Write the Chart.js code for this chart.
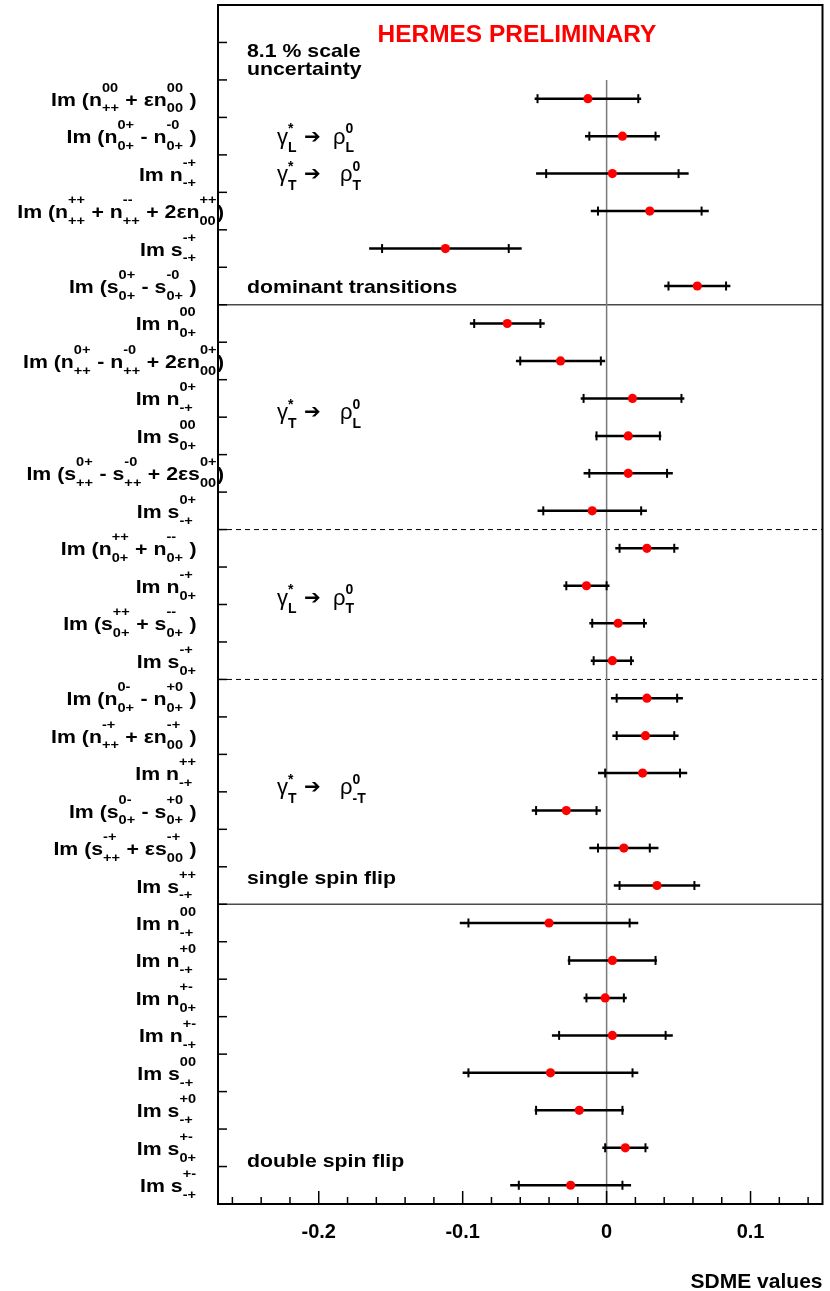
<!DOCTYPE html>
<html>
<head>
<meta charset="utf-8">
<script src="https://cdn.jsdelivr.net/npm/chart.js@4.4.1/dist/chart.umd.min.js"></script>
<style>
  body { margin: 0; background: #fff; }
  canvas { display: block; }
</style>
</head>
<body>
<canvas id="myChart" width="830" height="1291"></canvas>
<script>
// row labels, top to bottom (_{} subscript, ^{} superscript)
const labels = [
    'Im (n_{++}^{00} + εn_{00}^{00} )',
    'Im (n_{0+}^{0+} - n_{0+}^{-0} )',
    'Im n_{-+}^{-+}',
    'Im (n_{++}^{++} + n_{++}^{--} + 2εn_{00}^{++})',
    'Im s_{-+}^{-+}',
    'Im (s_{0+}^{0+} - s_{0+}^{-0} )',
    'Im n_{0+}^{00}',
    'Im (n_{++}^{0+} - n_{++}^{-0} + 2εn_{00}^{0+})',
    'Im n_{-+}^{0+}',
    'Im s_{0+}^{00}',
    'Im (s_{++}^{0+} - s_{++}^{-0} + 2εs_{00}^{0+})',
    'Im s_{-+}^{0+}',
    'Im (n_{0+}^{++} + n_{0+}^{--} )',
    'Im n_{0+}^{-+}',
    'Im (s_{0+}^{++} + s_{0+}^{--} )',
    'Im s_{0+}^{-+}',
    'Im (n_{0+}^{0-} - n_{0+}^{+0} )',
    'Im (n_{++}^{-+} + εn_{00}^{-+} )',
    'Im n_{-+}^{++}',
    'Im (s_{0+}^{0-} - s_{0+}^{+0} )',
    'Im (s_{++}^{-+} + εs_{00}^{-+} )',
    'Im s_{-+}^{++}',
    'Im n_{-+}^{00}',
    'Im n_{-+}^{+0}',
    'Im n_{0+}^{+-}',
    'Im n_{-+}^{+-}',
    'Im s_{-+}^{00}',
    'Im s_{-+}^{+0}',
    'Im s_{0+}^{+-}',
    'Im s_{-+}^{+-}'
];
const values = [-0.013, 0.011, 0.004, 0.030, -0.112, 0.063,
    -0.069, -0.032, 0.018, 0.015, 0.015, -0.010,
    0.028, -0.014, 0.008, 0.004,
    0.028, 0.027, 0.025, -0.028, 0.012, 0.035,
    -0.040, 0.004, -0.001, 0.004, -0.039, -0.019, 0.013, -0.025];
const statErr = [0.035, 0.023, 0.046, 0.036, 0.044, 0.020,
    0.023, 0.028, 0.034, 0.022, 0.027, 0.034,
    0.019, 0.014, 0.018, 0.013,
    0.021, 0.020, 0.026, 0.021, 0.018, 0.026,
    0.056, 0.030, 0.013, 0.037, 0.057, 0.030, 0.014, 0.036];
const totalErr = [0.037, 0.026, 0.053, 0.041, 0.053, 0.023,
    0.026, 0.031, 0.036, 0.023, 0.031, 0.038,
    0.022, 0.016, 0.020, 0.015,
    0.025, 0.023, 0.031, 0.024, 0.024, 0.030,
    0.062, 0.031, 0.015, 0.042, 0.061, 0.031, 0.016, 0.042];
const xTicks = [-0.2, -0.1, 0, 0.1];
const solidAfterRows = [5, 21];
const dashedAfterRows = [11, 15];
const groupTitles = ['dominant transitions', 'single spin flip', 'double spin flip'];
// [photon helicity, rho helicity]
const reactions = [['L', 'L'], ['T', 'T'], ['T', 'L'], ['L', 'T'], ['T', '-T']];

const FONT = '"Liberation Sans", Arial, Helvetica, sans-serif';

function drawText(ctx, s, x, y, font, sx) {
    ctx.save();
    ctx.font = font;
    ctx.translate(x, y);
    ctx.scale(sx, 1);
    ctx.fillText(s, 0, 0);
    ctx.restore();
}

function textW(ctx, s, font, sx) {
    ctx.font = font;
    return ctx.measureText(s).width * sx;
}

// split "Im n_{-+}^{0+}" into text pieces and sub/sup pairs
function parseRich(str) {
    const items = [];
    const re = /_\{([^}]*)\}|\^\{([^}]*)\}|([^_^]+)/g;
    let m;
    while ((m = re.exec(str))) {
        if (m[3] !== undefined) {
            items.push({ text: m[3] });
        } else {
            let last = items[items.length - 1];
            if (!last || last.text !== undefined) {
                last = { sub: '', sup: '' };
                items.push(last);
            }
            if (m[1] !== undefined) last.sub = m[1]; else last.sup = m[2];
        }
    }
    return items;
}

function itemWidth(ctx, it, st) {
    if (it.text !== undefined) return textW(ctx, it.text, st.base, st.sx);
    return Math.max(textW(ctx, it.sub, st.script, st.sx), textW(ctx, it.sup, st.script, st.sx)) + st.gap;
}

function drawRich(ctx, items, x, yBase, st) {
    items.forEach(it => {
        if (it.text !== undefined) {
            drawText(ctx, it.text, x, yBase, st.base, st.sx);
        } else {
            drawText(ctx, it.sup, x, yBase + st.supDy, st.script, st.sx);
            drawText(ctx, it.sub, x, yBase + st.subDy, st.script, st.sx);
        }
        x += itemWidth(ctx, it, st);
    });
}

const labelStyle = {
    base: 'bold 19px ' + FONT,
    script: 'bold 13px ' + FONT,
    sx: 1.12, gap: 0.5, supDy: -14, subDy: 6.8
};
const reactStyle = {
    base: '22px ' + FONT,
    script: 'bold 14px ' + FONT,
    sx: 1.0, gap: 0, supDy: -10.5, subDy: 8.5
};

function hLine(ctx, x1, x2, y, color, width, dash) {
    ctx.beginPath();
    ctx.setLineDash(dash || []);
    ctx.strokeStyle = color;
    ctx.lineWidth = width;
    ctx.moveTo(x1, y);
    ctx.lineTo(x2, y);
    ctx.stroke();
    ctx.setLineDash([]);
}

const sdmePlugin = {
    id: 'sdme',
    beforeDatasetsDraw(chart) {
        const { ctx, chartArea: a, scales: { x, y } } = chart;
        ctx.save();
        solidAfterRows.forEach(r => hLine(ctx, a.left, a.right, y.getPixelForValue(r + 0.5), '#4a4a4a', 1.5));
        dashedAfterRows.forEach(r => hLine(ctx, a.left, a.right, y.getPixelForValue(r + 0.5), '#000', 1, [5, 4]));

        // zero line
        const x0 = x.getPixelForValue(0);
        ctx.beginPath();
        ctx.strokeStyle = '#7a7a7a';
        ctx.lineWidth = 1.5;
        ctx.moveTo(x0, y.getPixelForValue(-0.5));
        ctx.lineTo(x0, a.bottom);
        ctx.stroke();

        // error bars: line = total error, ticks = statistical error
        values.forEach((v, i) => {
            const py = y.getPixelForValue(i);
            hLine(ctx, x.getPixelForValue(v - totalErr[i]), x.getPixelForValue(v + totalErr[i]), py, '#000', 2.5);
            [v - statErr[i], v + statErr[i]].forEach(e => {
                const px = x.getPixelForValue(e);
                ctx.beginPath();
                ctx.strokeStyle = '#000';
                ctx.lineWidth = 2;
                ctx.moveTo(px, py - 4.5);
                ctx.lineTo(px, py + 4.5);
                ctx.stroke();
            });
        });
        ctx.restore();
    },
    afterDraw(chart) {
        const { ctx, chartArea: a, scales: { x, y } } = chart;
        ctx.save();
        ctx.fillStyle = '#000';
        ctx.textBaseline = 'alphabetic';
        ctx.textAlign = 'left';

        // frame
        ctx.strokeStyle = '#000';
        ctx.lineWidth = 2;
        ctx.strokeRect(a.left, a.top, a.right - a.left, a.bottom - a.top);

        // x ticks, minor every 0.02
        ctx.lineWidth = 1.5;
        for (let k = Math.ceil(x.min / 0.02 - 1e-6); k <= Math.floor(x.max / 0.02 + 1e-6); k++) {
            const px = x.getPixelForValue(k * 0.02);
            const len = k % 5 === 0 ? 13 : 7;
            ctx.beginPath();
            ctx.moveTo(px, a.bottom);
            ctx.lineTo(px, a.bottom - len);
            ctx.stroke();
        }
        // y ticks between rows
        for (let r = y.min + 1; r < y.max; r++) {
            const py = y.getPixelForValue(r);
            ctx.beginPath();
            ctx.moveTo(a.left, py);
            ctx.lineTo(a.left + 9, py);
            ctx.stroke();
        }

        // row labels
        labels.forEach((lab, i) => {
            const items = parseRich(lab);
            const base = y.getPixelForValue(i) + 7;
            const w = items.reduce((s, it) => s + itemWidth(ctx, it, labelStyle), 0);
            const last = items[items.length - 1];
            const prev = items[items.length - 2];
            let x0;
            if (last.text === ')' && prev && prev.text === undefined) {
                // closing bracket hangs past the script end
                x0 = a.left - 1 - (w - itemWidth(ctx, last, labelStyle));
            } else {
                x0 = a.left - 21.5 - w;
            }
            drawRich(ctx, items, x0, base, labelStyle);
        });

        // header
        ctx.fillStyle = '#ff0000';
        const hdr = 'HERMES PRELIMINARY';
        const hf = 'bold 23.5px ' + FONT;
        drawText(ctx, hdr, a.left + 299 - textW(ctx, hdr, hf, 1.04) / 2, y.getPixelForValue(-1.51), hf, 1.04);

        ctx.fillStyle = '#000';
        const tf = 'bold 19px ' + FONT;
        drawText(ctx, '8.1 % scale', a.left + 29, y.getPixelForValue(-1.12), tf, 1.12);
        drawText(ctx, 'uncertainty', a.left + 29, y.getPixelForValue(-0.64), tf, 1.12);
        [5.18, 20.96, 28.5].forEach((r, k) => {
            drawText(ctx, groupTitles[k], a.left + 29, y.getPixelForValue(r), tf, 1.12);
        });

        // gamma* -> rho transitions
        const reactRows = [1, 2, 8.36, 13.3, 18.37];
        reactions.forEach(([g, r], k) => {
            const base = y.getPixelForValue(reactRows[k]) + 7.5;
            drawRich(ctx, parseRich('γ_{' + g + '}^{*}'), a.left + 59, base, reactStyle);
            drawText(ctx, '➔', a.left + 86, base - 1, 'bold 20px "DejaVu Sans"', 1);
            drawRich(ctx, parseRich('ρ_{' + r + '}^{0}'), a.left + (g === 'T' ? 122 : 115), base, reactStyle);
        });
        ctx.restore();
    }
};

const ctx = document.getElementById('myChart').getContext('2d');
new Chart(ctx, {
    type: 'scatter',
    data: {
        datasets: [{
            data: values.map((v, i) => ({ x: v, y: i })),
            backgroundColor: '#ff0000',
            borderWidth: 0,
            pointRadius: 4.6,
            pointHoverRadius: 4.6
        }]
    },
    options: {
        responsive: false,
        animation: false,
        devicePixelRatio: 1,
        events: [],
        layout: { padding: { top: 5, right: 7.5, left: 0, bottom: 0 } },
        plugins: {
            legend: { display: false },
            tooltip: { enabled: false }
        },
        scales: {
            x: {
                type: 'linear',
                position: 'bottom',
                min: -0.27,
                max: 0.15,
                afterBuildTicks: s => { s.ticks = xTicks.map(v => ({ value: v })); },
                afterFit: s => { s.height = 87; },
                grid: { display: false, drawTicks: false },
                border: { display: false },
                ticks: {
                    color: '#000',
                    font: { family: FONT, size: 20, weight: 'bold' },
                    padding: 16,
                    maxRotation: 0,
                    autoSkip: false,
                    callback: v => String(v)
                },
                title: {
                    display: true,
                    text: 'SDME values',
                    align: 'end',
                    color: '#000',
                    font: { family: FONT, size: 21, weight: 'bold', lineHeight: 0.8 },
                    padding: 0
                }
            },
            y: {
                type: 'linear',
                reverse: true,
                min: -2.5,
                max: 29.5,
                afterFit: s => { s.width = 218; },
                grid: { display: false },
                border: { display: false },
                ticks: { display: false }
            }
        }
    },
    plugins: [sdmePlugin]
});
</script>
</body>
</html>
